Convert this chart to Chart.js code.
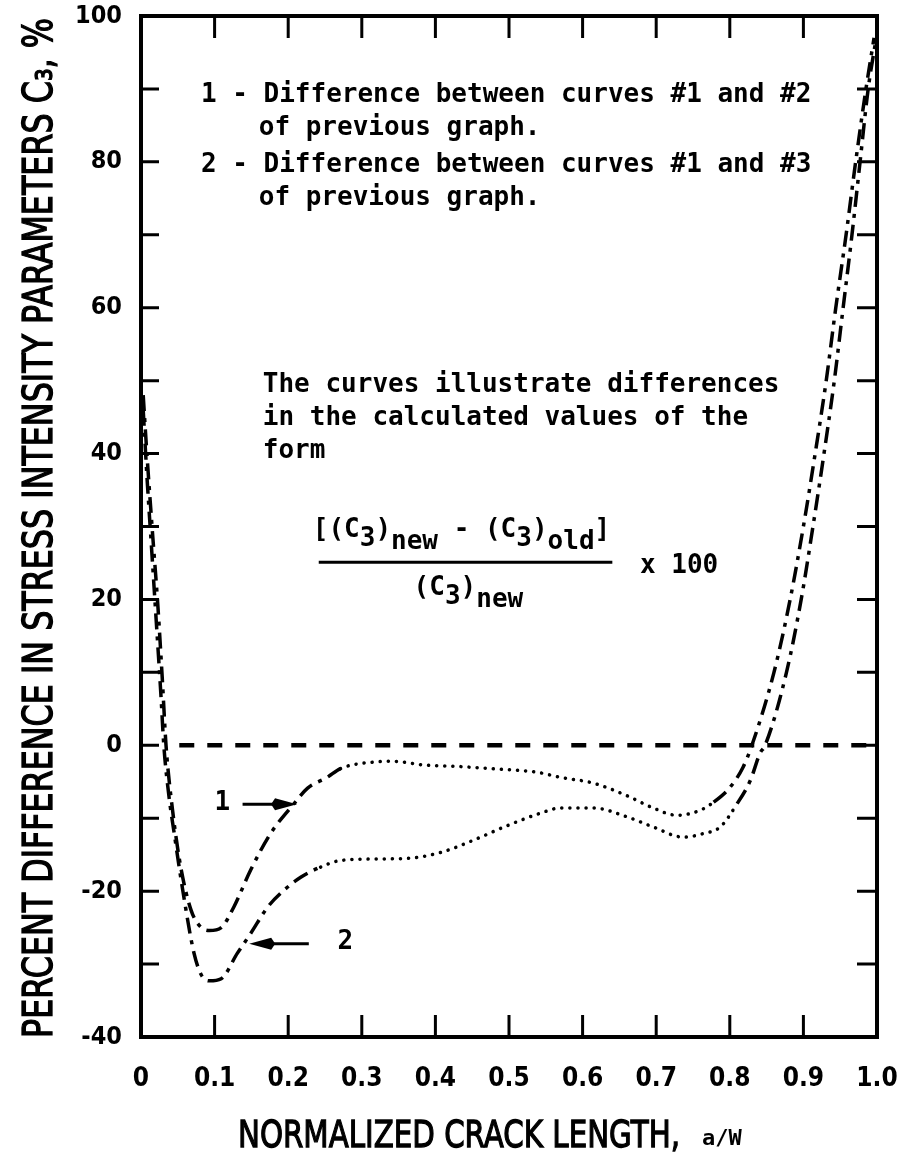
<!DOCTYPE html>
<html>
<head>
<meta charset="utf-8">
<script src="https://cdn.jsdelivr.net/npm/chart.js@4.4.0/dist/chart.umd.min.js"></script>
<style>
html, body { margin: 0; padding: 0; background: #fff; }
</style>
</head>
<body>
<canvas id="myChart" width="906" height="1164"></canvas>
<script>
// curve 1 : difference between curves #1 and #2
let crack1 = [0.003, 0.008, 0.015, 0.023, 0.029, 0.034, 0.043, 0.054, 0.068, 0.080, 0.093, 0.109, 0.126, 0.149, 0.176, 0.208, 0.226, 0.253, 0.271, 0.316, 0.343, 0.384, 0.430, 0.475, 0.538, 0.570, 0.615, 0.660, 0.696, 0.728, 0.760, 0.778, 0.800, 0.818, 0.830, 0.860, 0.882, 0.900, 0.916, 0.931, 0.944, 0.958, 0.971, 0.985, 0.996];
let diff1 = [48, 40, 30, 19, 9, 0, -9, -16.7, -22.6, -24.8, -25.4, -25, -22.2, -17.1, -12.1, -8.0, -5.9, -4.4, -3.2, -2.3, -2.2, -2.7, -2.9, -3.2, -3.7, -4.4, -5.2, -6.9, -8.6, -9.6, -8.9, -7.8, -5.8, -3.0, 0, 10, 20, 30, 40, 50, 60, 70, 80, 90, 97];

// curve 2 : difference between curves #1 and #3
let crack2 = [0.003, 0.008, 0.015, 0.022, 0.027, 0.031, 0.038, 0.045, 0.059, 0.072, 0.082, 0.093, 0.109, 0.131, 0.149, 0.172, 0.194, 0.217, 0.244, 0.271, 0.316, 0.362, 0.407, 0.452, 0.498, 0.543, 0.570, 0.615, 0.660, 0.696, 0.737, 0.764, 0.787, 0.810, 0.828, 0.841, 0.848, 0.877, 0.897, 0.913, 0.928, 0.942, 0.954, 0.966, 0.977, 0.988, 0.999];
let diff2 = [46, 37, 26, 15, 7, 0, -7, -12, -21.3, -28.5, -31.5, -32.3, -32, -28.5, -25.8, -22.2, -19.9, -18.1, -16.7, -15.8, -15.6, -15.5, -14.7, -13.0, -11.0, -9.3, -8.6, -8.6, -9.8, -11.2, -12.6, -12.1, -11.2, -8.0, -4.8, -1.1, 0, 10, 20, 30, 40, 50, 60, 70, 80, 90, 97];

let zeroX = [0.052, 1.0];
let zeroY = [0, 0];

let xTickValues = [0, 0.1, 0.2, 0.3, 0.4, 0.5, 0.6, 0.7, 0.8, 0.9, 1.0];
let xTickLabels = ['0', '0.1', '0.2', '0.3', '0.4', '0.5', '0.6', '0.7', '0.8', '0.9', '1.0'];
let yTickValues = [-40, -30, -20, -10, 0, 10, 20, 30, 40, 50, 60, 70, 80, 90, 100];
let yTickLabels = ['-40', '', '-20', '', '0', '', '20', '', '40', '', '60', '', '80', '', '100'];

// where the line style switches dash-dot -> dotted -> dash-dot
let dotted1 = [0.271, 0.770];
let dotted2 = [0.244, 0.800];

const DASHDOT = [16, 7, 4, 7];
const DOTS = [0.1, 8];
const MONO = "'DejaVu Sans Mono', monospace";
const NARROW = "'DejaVu Sans Condensed', 'Liberation Sans Narrow', 'DejaVu Sans', sans-serif";

function toPoints(xs, ys) {
    return xs.map((x, i) => ({ x: x, y: ys[i] }));
}

function styleSegment(range) {
    return {
        borderDash: ctx => (ctx.p0.parsed.x >= range[0] && ctx.p0.parsed.x < range[1]) ? DOTS : DASHDOT,
        borderCapStyle: ctx => (ctx.p0.parsed.x >= range[0] && ctx.p0.parsed.x < range[1]) ? 'round' : 'butt'
    };
}

// text squeezed to a given width, filled and lightly stroked for a medium weight
function squeezed(ctx, text, cx, cy, width, font, rotate) {
    ctx.save();
    ctx.font = font;
    let w = ctx.measureText(text).width;
    ctx.translate(cx, cy);
    if (rotate) ctx.rotate(-Math.PI / 2);
    ctx.scale(width / w, 1);
    ctx.textAlign = 'center';
    ctx.textBaseline = 'middle';
    ctx.lineWidth = 1.3;
    ctx.fillText(text, 0, 0);
    ctx.strokeText(text, 0, 0);
    ctx.restore();
}

// runs of text with a vertical shift for subscripts
function runs(ctx, parts, x, y) {
    parts.forEach(p => {
        ctx.fillText(p[0], x, y + (p[1] || 0));
        x += ctx.measureText(p[0]).width;
    });
}

function arrow(ctx, x0, x1, y) {
    let dir = x1 > x0 ? 1 : -1;
    ctx.lineWidth = 3;
    ctx.beginPath();
    ctx.moveTo(x0, y);
    ctx.lineTo(x1 - dir * 10, y);
    ctx.stroke();
    ctx.beginPath();
    ctx.moveTo(x1, y);
    ctx.lineTo(x1 - dir * 22, y - 6);
    ctx.lineTo(x1 - dir * 26, y);
    ctx.lineTo(x1 - dir * 22, y + 6);
    ctx.closePath();
    ctx.fill();
}

const notesPlugin = {
    id: 'notes',
    afterDraw(chart) {
        let ctx = chart.ctx;
        let xs = chart.scales.x, ys = chart.scales.y;
        let a = chart.chartArea;
        let px = v => xs.getPixelForValue(v);
        let py = v => ys.getPixelForValue(v);
        ctx.save();
        ctx.fillStyle = '#000';
        ctx.strokeStyle = '#000';

        // frame
        ctx.lineWidth = 4;
        ctx.strokeRect(a.left, a.top, a.right - a.left, a.bottom - a.top);

        // inward ticks
        ctx.lineWidth = 3;
        xTickValues.slice(1, -1).forEach(v => {
            ctx.beginPath();
            ctx.moveTo(px(v), a.top); ctx.lineTo(px(v), a.top + 22);
            ctx.moveTo(px(v), a.bottom); ctx.lineTo(px(v), a.bottom - 22);
            ctx.stroke();
        });
        yTickValues.slice(1, -1).forEach(v => {
            ctx.beginPath();
            ctx.moveTo(a.left, py(v)); ctx.lineTo(a.left + 18, py(v));
            ctx.moveTo(a.right, py(v)); ctx.lineTo(a.right - 20, py(v));
            ctx.stroke();
        });

        // axis titles
        squeezed(ctx, 'PERCENT DIFFERENCE IN STRESS INTENSITY PARAMETERS C\u2083, %', 42, 528, 1020, '40px DejaVu Sans', true);
        squeezed(ctx, 'NORMALIZED CRACK LENGTH,', 459, 1137, 442, '38px DejaVu Sans', false);
        ctx.font = 'bold 22px ' + MONO;
        ctx.textAlign = 'left';
        ctx.textBaseline = 'middle';
        ctx.fillText('a/W', 702, 1139);

        // explanatory text
        ctx.font = 'bold 26px ' + MONO;
        ctx.textAlign = 'left';
        ctx.textBaseline = 'middle';
        ctx.fillText('1 - Difference between curves #1 and #2', px(0.0814), py(89.2));
        ctx.fillText('of previous graph.', px(0.160), py(84.6));
        ctx.fillText('2 - Difference between curves #1 and #3', px(0.0814), py(79.6));
        ctx.fillText('of previous graph.', px(0.160), py(75.0));
        ctx.fillText('The curves illustrate differences', px(0.1655), py(49.4));
        ctx.fillText('in the calculated values of the', px(0.1655), py(44.9));
        ctx.fillText('form', px(0.1655), py(40.3));

        // formula
        runs(ctx, [['[(C'], ['3', 9], [')'], ['new', 12], [' - (C'], ['3', 9], [')'], ['old', 12], [']']], px(0.2334), py(29.5));
        ctx.lineWidth = 3;
        ctx.beginPath();
        ctx.moveTo(px(0.2415), py(25.1));
        ctx.lineTo(px(0.6404), py(25.1));
        ctx.stroke();
        runs(ctx, [['(C'], ['3', 9], [')'], ['new', 12]], px(0.3704), py(21.5));
        ctx.fillText('x 100', px(0.678), py(24.6));

        // curve labels with arrows
        ctx.fillText('1', px(0.100), py(-8.0));
        arrow(ctx, px(0.138), px(0.212), py(-8.1));
        ctx.fillText('2', px(0.267), py(-27.0));
        arrow(ctx, px(0.228), px(0.147), py(-27.2));
        ctx.restore();
    }
};

let ctx = document.querySelector('#myChart').getContext('2d');
let myChart = new Chart(ctx, {
    type: 'line',
    data: {
        datasets: [{
            label: 'curve 1',
            data: toPoints(crack1, diff1),
            borderColor: '#000',
            borderWidth: 3.5,
            pointRadius: 0,
            cubicInterpolationMode: 'monotone',
            segment: styleSegment(dotted1)
        }, {
            label: 'curve 2',
            data: toPoints(crack2, diff2),
            borderColor: '#000',
            borderWidth: 3.5,
            pointRadius: 0,
            cubicInterpolationMode: 'monotone',
            segment: styleSegment(dotted2)
        }, {
            label: 'zero',
            data: toPoints(zeroX, zeroY),
            borderColor: '#000',
            borderWidth: 4.5,
            borderDash: [15, 13],
            pointRadius: 0
        }]
    },
    options: {
        responsive: false,
        animation: false,
        devicePixelRatio: 1,
        layout: { padding: { top: 16, right: 29, left: 0, bottom: 0 } },
        plugins: {
            legend: { display: false },
            tooltip: { enabled: false }
        },
        scales: {
            x: {
                type: 'linear',
                min: 0,
                max: 1,
                afterFit: s => {
                    s.height = 127;
                    s.paddingLeft = 0; s.paddingRight = 0;
                },
                afterBuildTicks: s => { s.ticks = xTickValues.map(v => ({ value: v })); },
                grid: { display: false, drawTicks: false },
                border: { display: false },
                ticks: {
                    autoSkip: false,
                    maxRotation: 0,
                    padding: 27,
                    color: '#000',
                    font: { family: NARROW, size: 26, weight: 'bold' },
                    callback: (v, i) => xTickLabels[i]
                }
            },
            y: {
                min: -40,
                max: 100,
                afterFit: s => {
                    s.width = 141;
                    s.paddingTop = 0; s.paddingBottom = 0;
                },
                afterBuildTicks: s => { s.ticks = yTickValues.map(v => ({ value: v })); },
                grid: { display: false, drawTicks: false },
                border: { display: false },
                ticks: {
                    autoSkip: false,
                    padding: 19,
                    color: '#000',
                    font: { family: NARROW, size: 25, weight: 'bold' },
                    callback: (v, i) => yTickLabels[i]
                }
            }
        }
    },
    plugins: [notesPlugin]
});
</script>
</body>
</html>
